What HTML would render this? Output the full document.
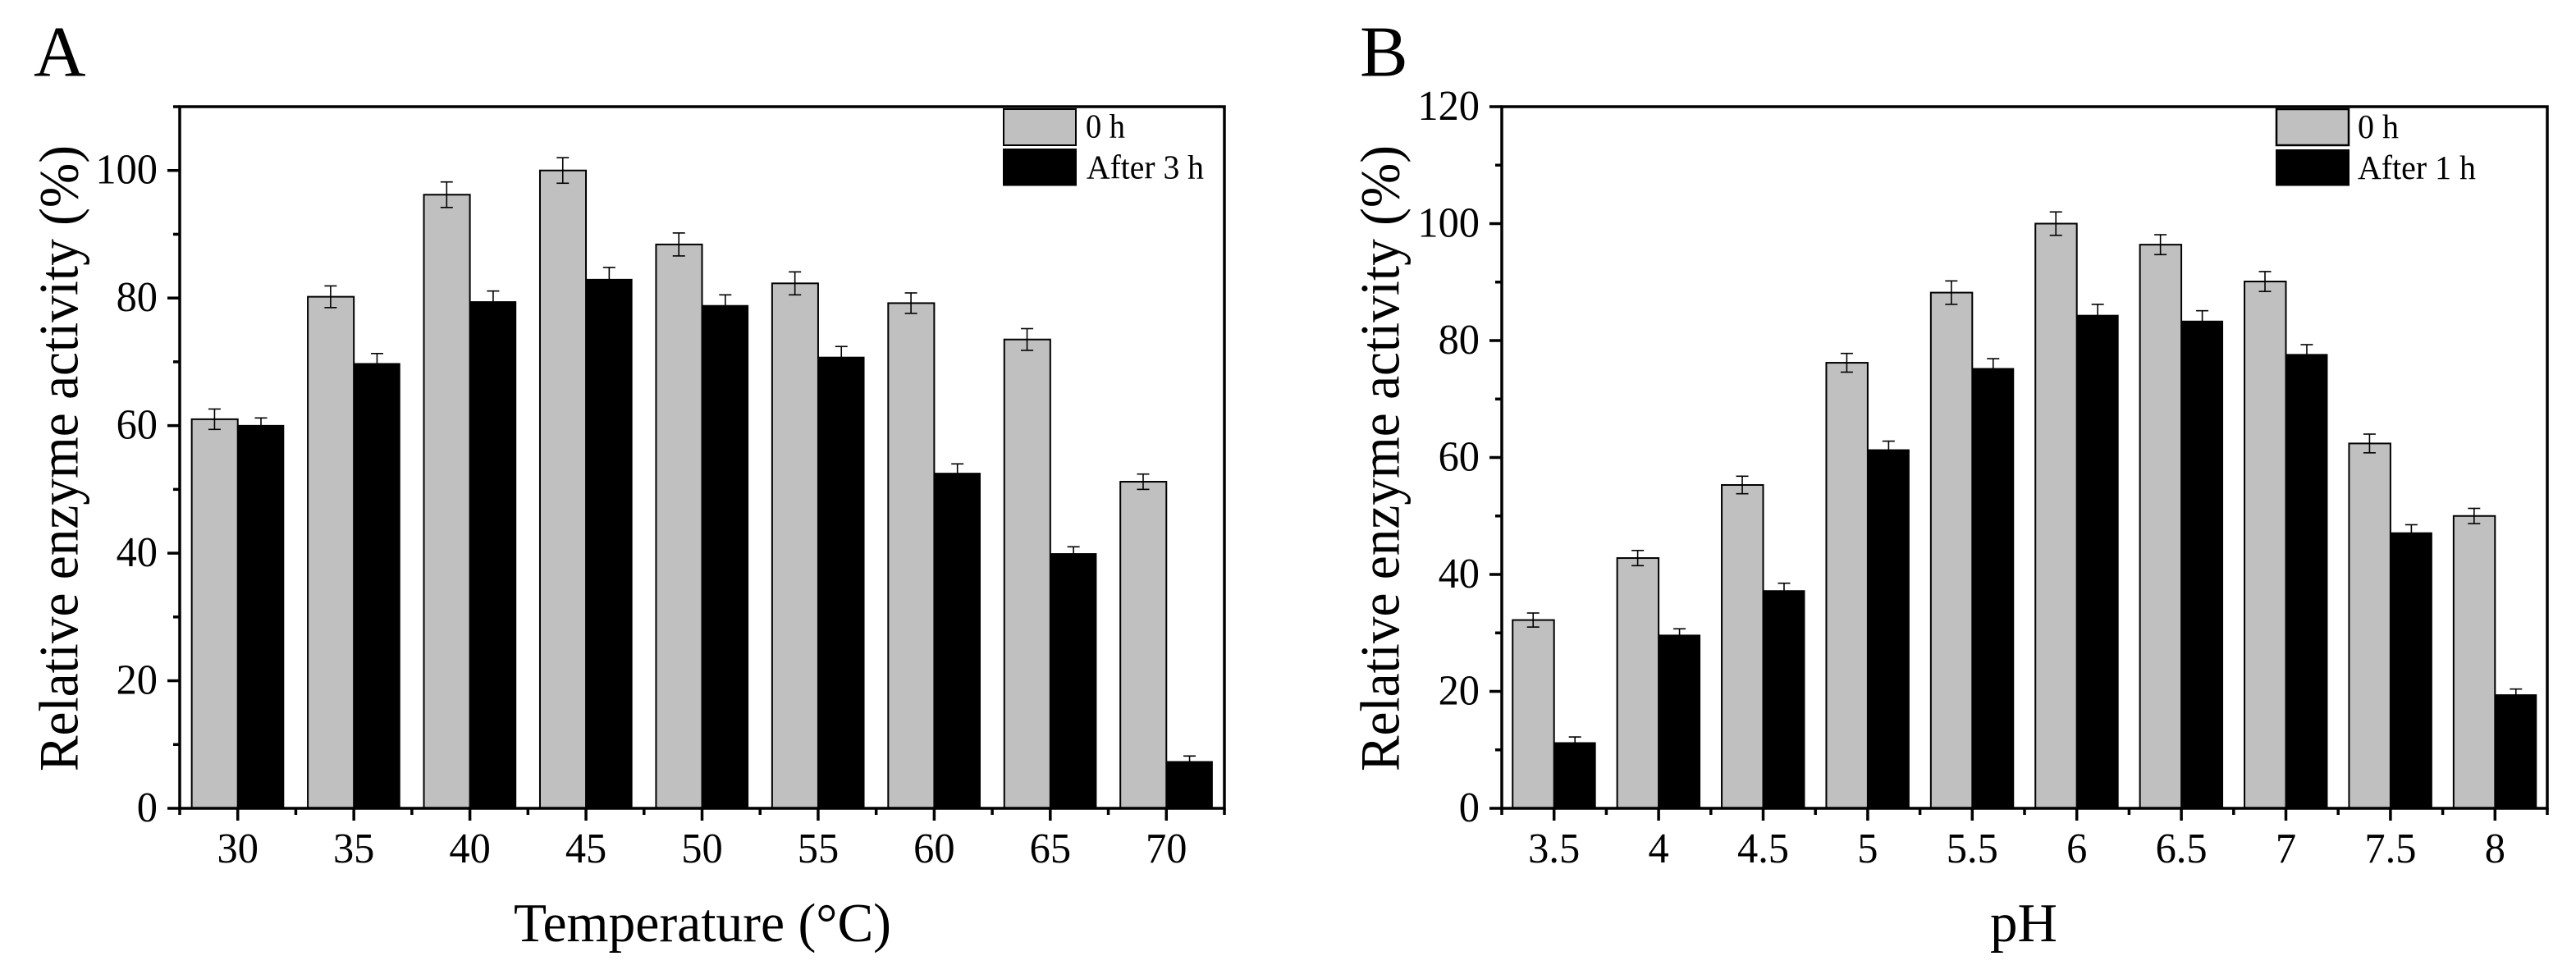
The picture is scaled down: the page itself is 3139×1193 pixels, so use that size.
<!DOCTYPE html>
<html lang="en">
<head>
<meta charset="utf-8">
<title>Relative enzyme activity by temperature and pH</title>
<style>
  html, body { margin: 0; padding: 0; background: #fff; }
  body { width: 3139px; height: 1193px; overflow: hidden; }
  svg { display: block; }
  text { font-family: "Liberation Serif", serif; fill: #000; }
</style>
</head>
<body>
<svg id="figure" xmlns="http://www.w3.org/2000/svg" width="3139" height="1193" viewBox="0 0 3139 1193">
  <rect x="0" y="0" width="3139" height="1193" fill="#fff"/>

  <text x="41" y="92.5" font-size="88">A</text>
  <text x="1657" y="92.5" font-size="88">B</text>

  <g id="panel-a"></g>
  <g id="panel-b"></g>

  <text transform="translate(94.5 940) rotate(-90)" font-size="68" textLength="763" lengthAdjust="spacingAndGlyphs">Relative enzyme activity (%)</text>
  <text transform="translate(1704.5 940) rotate(-90)" font-size="68" textLength="763" lengthAdjust="spacingAndGlyphs">Relative enzyme activity (%)</text>

  <text x="626" y="1147" font-size="67" textLength="460" lengthAdjust="spacingAndGlyphs">Temperature (°C)</text>
  <text x="2425" y="1147" font-size="67" textLength="82" lengthAdjust="spacingAndGlyphs">pH</text>

  <g>
    <g>
      <rect x="1223" y="133" width="88" height="44" fill="#c0c0c0" stroke="#000" stroke-width="2"/>
      <text x="1323" y="167.5" font-size="41" textLength="48" lengthAdjust="spacingAndGlyphs">0 h</text>
    </g>
    <g>
      <rect x="1222" y="181" width="90" height="45.5" fill="#000"/>
      <text x="1324" y="217.5" font-size="41" textLength="143" lengthAdjust="spacingAndGlyphs">After 3 h</text>
    </g>
  </g>

  <g>
    <g>
      <rect x="2774" y="133" width="88" height="44" fill="#c0c0c0" stroke="#000" stroke-width="2.5"/>
      <text x="2873" y="168" font-size="41" textLength="50" lengthAdjust="spacingAndGlyphs">0 h</text>
    </g>
    <g>
      <rect x="2773" y="182" width="90" height="44.5" fill="#000"/>
      <text x="2873" y="218" font-size="41" textLength="144" lengthAdjust="spacingAndGlyphs">After 1 h</text>
    </g>
  </g>
</svg>

<script>
// Panel A: temperature
const tempCategories = ['30', '35', '40', '45', '50', '55', '60', '65', '70'];
const tempInitial = [61.0, 80.2, 96.2, 100.0, 88.4, 82.3, 79.2, 73.5, 51.2];
const tempInitialErr = [1.6, 1.7, 2.0, 2.0, 1.8, 1.8, 1.6, 1.7, 1.2];
const tempAfter = [60.1, 69.8, 79.5, 83.0, 78.9, 70.8, 52.6, 40.0, 7.4];
const tempAfterErr = [1.1, 1.5, 1.6, 1.8, 1.6, 1.6, 1.4, 1.0, 0.8];
const tempYTicks = [0, 20, 40, 60, 80, 100];
const tempYMinorTicks = [10, 30, 50, 70, 90, 110];

// Panel B: pH
const phCategories = ['3.5', '4', '4.5', '5', '5.5', '6', '6.5', '7', '7.5', '8'];
const phInitial = [32.2, 42.8, 55.3, 76.2, 88.2, 100.0, 96.4, 90.1, 62.4, 50.0];
const phInitialErr = [1.2, 1.3, 1.5, 1.6, 2.0, 2.0, 1.7, 1.7, 1.6, 1.3];
const phAfter = [11.3, 29.7, 37.3, 61.4, 75.3, 84.4, 83.4, 77.7, 47.2, 19.5];
const phAfterErr = [0.9, 1.0, 1.2, 1.4, 1.6, 1.8, 1.7, 1.6, 1.3, 0.9];
const phYTicks = [0, 20, 40, 60, 80, 100, 120];
const phYMinorTicks = [10, 30, 50, 70, 90, 110];

const SVG_NS = 'http://www.w3.org/2000/svg';

function drawLine(parent, x1, y1, x2, y2, width, color) {
  const el = document.createElementNS(SVG_NS, 'line');
  el.setAttribute('x1', x1);
  el.setAttribute('y1', y1);
  el.setAttribute('x2', x2);
  el.setAttribute('y2', y2);
  el.setAttribute('stroke', color || '#000');
  el.setAttribute('stroke-width', width);
  parent.appendChild(el);
  return el;
}

function drawTickLabel(parent, label, x, y, anchor) {
  const el = document.createElementNS(SVG_NS, 'text');
  el.setAttribute('transform', 'translate(' + x + ' ' + y + ') scale(0.97 1)');
  el.setAttribute('font-size', '52');
  el.setAttribute('text-anchor', anchor);
  el.textContent = label;
  parent.appendChild(el);
  return el;
}

function drawChart(root, box, yMax, categories, initial, initialErr, after, afterErr, yTicks, yMinorTicks) {
  const step = (box.right - box.left) / categories.length;
  const yScale = function (v) { return box.bottom - (v / yMax) * (box.bottom - box.top); };
  const xCenter = function (i) { return box.left + (i + 0.5) * step; };
  const barWidth = step * 0.4;

  categories.forEach(function (cat, i) {
    const cx = xCenter(i);

    const gray = document.createElementNS(SVG_NS, 'rect');
    
    
    gray.setAttribute('x', cx - barWidth + 0.5);
    gray.setAttribute('y', yScale(initial[i]));
    gray.setAttribute('width', barWidth - 0.5);
    gray.setAttribute('height', box.bottom - yScale(initial[i]));
    gray.setAttribute('fill', '#c0c0c0');
    gray.setAttribute('stroke', '#000');
    gray.setAttribute('stroke-width', '2');
    root.appendChild(gray);

    const black = document.createElementNS(SVG_NS, 'rect');
    
    
    black.setAttribute('x', cx);
    black.setAttribute('y', yScale(after[i]));
    black.setAttribute('width', barWidth);
    black.setAttribute('height', box.bottom - yScale(after[i]));
    black.setAttribute('fill', '#000');
    root.appendChild(black);

    const capHalf = 7.5;

    const grayErr = document.createElementNS(SVG_NS, 'g');
    
    
    const gx = cx - barWidth / 2;
    const gTop = yScale(initial[i] + initialErr[i]);
    const gBot = yScale(initial[i] - initialErr[i]);
    drawLine(grayErr, gx, gTop, gx, gBot, 1.6);
    drawLine(grayErr, gx - capHalf, gTop, gx + capHalf, gTop, 1.6);
    drawLine(grayErr, gx - capHalf, gBot, gx + capHalf, gBot, 1.6);
    root.appendChild(grayErr);

    const blackErr = document.createElementNS(SVG_NS, 'g');
    
    
    const bx = cx + barWidth / 2;
    const bTop = yScale(after[i] + afterErr[i]);
    const bBot = yScale(after[i] - afterErr[i]);
    drawLine(blackErr, bx, bTop, bx, bBot, 1.6);
    drawLine(blackErr, bx - capHalf, bTop, bx + capHalf, bTop, 1.6);
    root.appendChild(blackErr);
  });

  const frame = document.createElementNS(SVG_NS, 'rect');
  
  
  frame.setAttribute('x', box.left);
  frame.setAttribute('y', box.top);
  frame.setAttribute('width', box.right - box.left);
  frame.setAttribute('height', box.bottom - box.top);
  frame.setAttribute('fill', 'none');
  frame.setAttribute('stroke', '#000');
  frame.setAttribute('stroke-width', '3.5');
  root.appendChild(frame);

  const yAxis = document.createElementNS(SVG_NS, 'g');
  
  
  root.appendChild(yAxis);

  yTicks.forEach(function (v) {
    const tick = drawLine(yAxis, box.left - 15, yScale(v), box.left, yScale(v), 3.5);
    
    
    const label = drawTickLabel(yAxis, String(v), box.left - 27, yScale(v) + 16, 'end');
    
    
  });

  yMinorTicks.forEach(function (v) {
    const tick = drawLine(yAxis, box.left - 8, yScale(v), box.left, yScale(v), 3.5);
    
    
  });

  const xAxis = document.createElementNS(SVG_NS, 'g');
  
  
  root.appendChild(xAxis);

  categories.forEach(function (cat, i) {
    const tick = drawLine(xAxis, xCenter(i), box.bottom, xCenter(i), box.bottom + 15, 3.5);
    
    
    const label = drawTickLabel(xAxis, cat, xCenter(i), 1051, 'middle');
    
    
  });

  for (let i = 0; i <= categories.length; i++) {
    const edge = box.left + i * step;
    const tick = drawLine(xAxis, edge, box.bottom, edge, box.bottom + 8, 3.5);
    
    
  }
}

drawChart(document.getElementById('panel-a'),
  { left: 219, right: 1492, top: 130, bottom: 985 }, 110,
  tempCategories, tempInitial, tempInitialErr, tempAfter, tempAfterErr, tempYTicks, tempYMinorTicks);

drawChart(document.getElementById('panel-b'),
  { left: 1830, right: 3104, top: 130, bottom: 985 }, 120,
  phCategories, phInitial, phInitialErr, phAfter, phAfterErr, phYTicks, phYMinorTicks);
</script>
</body>
</html>
